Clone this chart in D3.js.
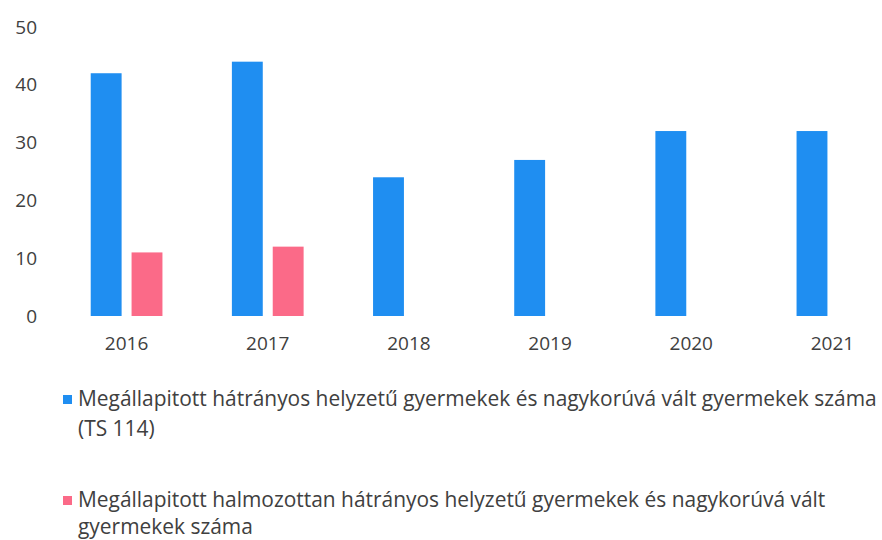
<!DOCTYPE html>
<html>
<head>
<meta charset="utf-8">
<script src="https://cdn.jsdelivr.net/npm/d3@7"></script>
<style>
  body { margin: 0; background: #fff; }
  text { font-family: "Open Sans", sans-serif; fill: #404040; }
</style>
</head>
<body>
<div id="chart"></div>
<script>
const years = ['2016', '2017', '2018', '2019', '2020', '2021'];
const hhValues  = [42, 44, 24, 27, 32, 32];
const hhhValues = [11, 12, null, null, null, null];
const yTicks = [0, 10, 20, 30, 40, 50];

const colors = ['#1f8ef1', '#fb6a88'];
const legendLines = [
  ['Megállapitott hátrányos helyzetű gyermekek és nagykorúvá vált gyermekek száma', '(TS 114)'],
  ['Megállapitott halmozottan hátrányos helyzetű gyermekek és nagykorúvá vált', 'gyermekek száma']
];

const W = 882, H = 540;
const svg = d3.select('#chart').append('svg')
  .attr('width', W).attr('height', H);

const x0 = d3.scaleBand().domain(years).range([56, 903]).padding(0);
const x1 = d3.scaleBand().domain([0, 1]).range([0, x0.bandwidth()])
  .paddingInner(0.244).paddingOuter(0.85);
const y = d3.scaleLinear().domain([0, 50]).range([316, 27]);

// y axis labels
const yAxis = svg.append('g')
  .attr('transform', 'translate(37,0)')
  .call(d3.axisLeft(y).tickValues(yTicks).tickSize(0).tickPadding(0));
yAxis.select('.domain').remove();
yAxis.selectAll('text').style('font-size', '19px').attr('fill', '#404040')
  .style('font-family', '"Open Sans", sans-serif');

// x axis labels
const xAxis = svg.append('g')
  .attr('transform', 'translate(0,336)')
  .call(d3.axisBottom(x0).tickSize(0).tickPadding(0));
xAxis.select('.domain').remove();
xAxis.selectAll('text').style('font-size', '19px').attr('fill', '#404040')
  .style('font-family', '"Open Sans", sans-serif');

// bars
const series = [hhValues, hhhValues];
series.forEach((vals, si) => {
  svg.append('g')
    .selectAll('rect')
    .data(years.map((yr, i) => ({ yr, v: vals[i] })).filter(d => d.v != null))
    .join('rect')
    .attr('x', d => x0(d.yr) + x1(si))
    .attr('width', x1.bandwidth())
    .attr('y', d => y(d.v))
    .attr('height', d => y(0) - y(d.v))
    .attr('fill', colors[si]);
});

// legend — size font so the first line spans the same width as in the original
const probe = svg.append('text').style('font-size', '20px').text(legendLines[0][0]);
const legendSize = 20 * 799 / probe.node().getComputedTextLength();
probe.remove();

const legendY = [406, 507];
const lineGap = [30, 27];
legendLines.forEach((lines, i) => {
  const g = svg.append('g');
  g.append('rect')
    .attr('x', 63).attr('y', legendY[i] - 11)
    .attr('width', 9).attr('height', 9)
    .attr('fill', colors[i]);
  lines.forEach((t, j) => {
    g.append('text')
      .attr('x', 78).attr('y', legendY[i] + j * lineGap[i])
      .style('font-size', legendSize + 'px')
      .text(t);
  });
});
</script>
</body>
</html>
